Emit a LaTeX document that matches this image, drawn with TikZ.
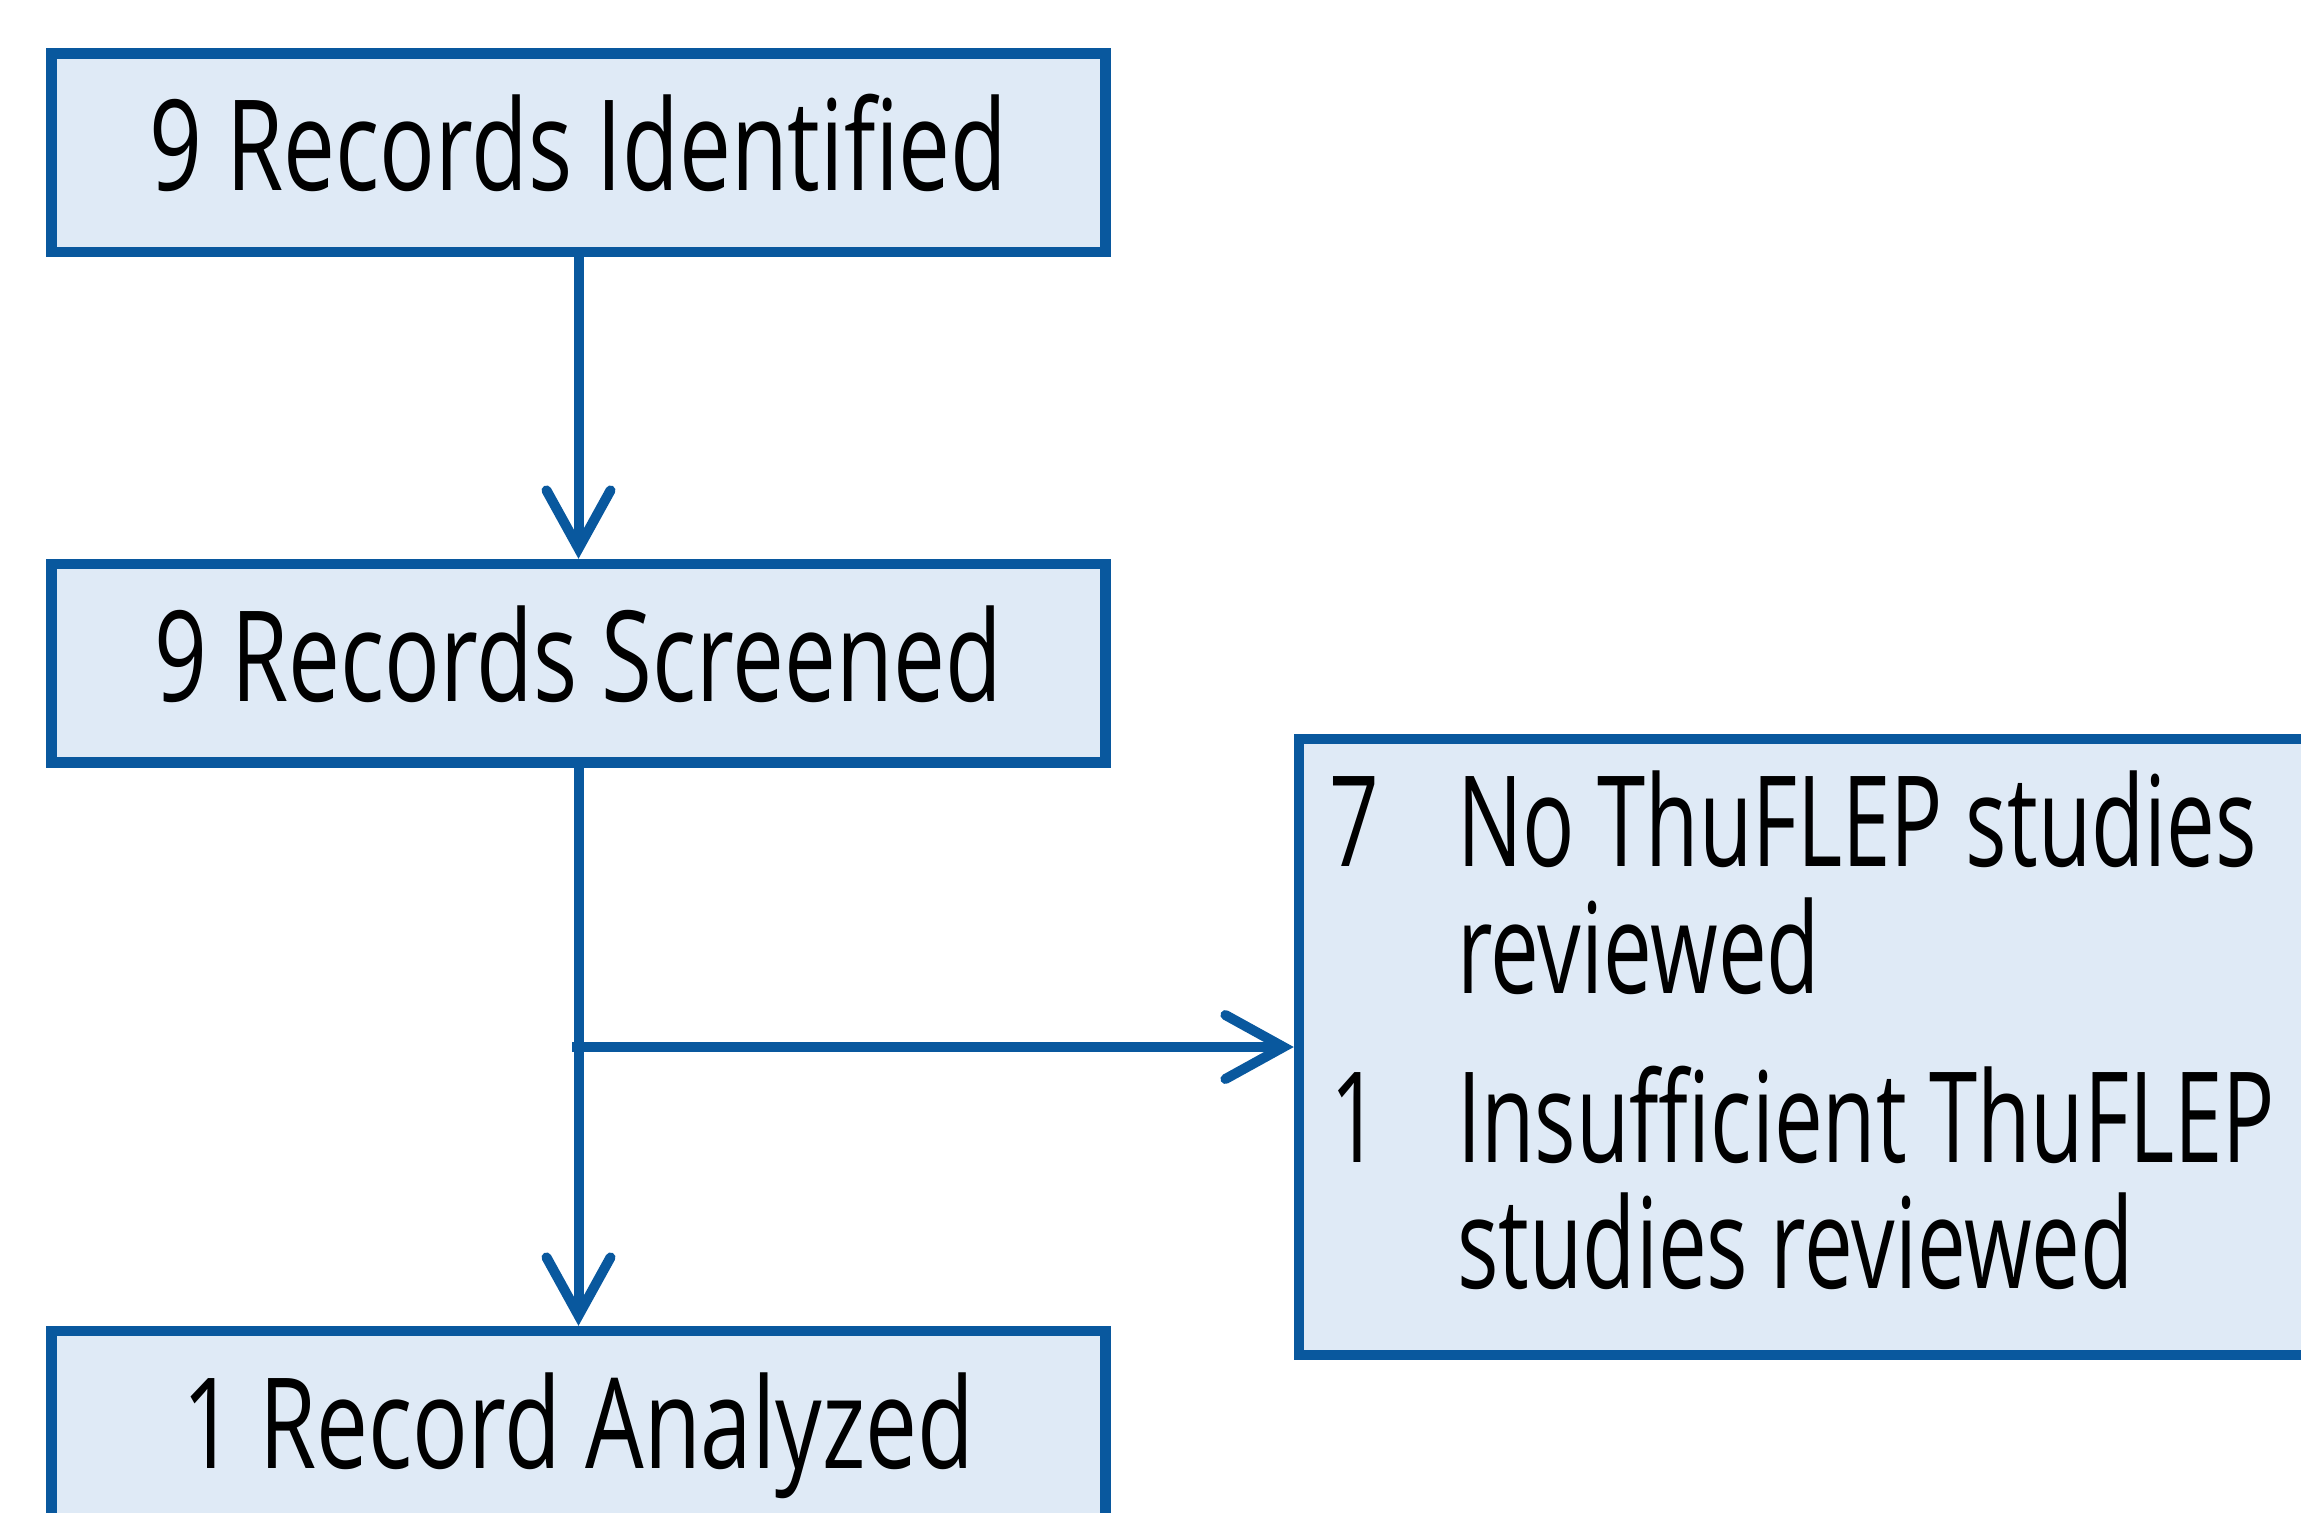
\documentclass[tikz,border=0pt]{standalone}
\usepackage{fontspec}
\setmainfont[FakeStretch=0.735]{Open Sans}
\newfontfamily\rbfont[FakeStretch=0.69]{Open Sans}
\usetikzlibrary{arrows.meta}
\definecolor{bordblue}{RGB}{9,88,158}
\definecolor{fillblue}{RGB}{223,234,246}
\begin{document}
\begin{tikzpicture}[x=1pt,y=-1pt,
  box/.style={draw=bordblue, fill=fillblue, line width=10.5pt, inner sep=0pt,
    minimum width=1054pt, minimum height=198.5pt, text height=76pt, text depth=0pt,
    font=\fontsize{126}{150}\selectfont},
  conn/.style={draw=bordblue, line width=10pt,
    -{Straight Barb[length=58pt,width=64pt,line cap=round]}},
  lbl/.style={inner sep=0pt, anchor=base west, font=\rbfont\fontsize{126}{150}\selectfont}]
\useasboundingbox (0,0) rectangle (2301,1512);
\clip (0,0) rectangle (2301,1512);
\node[box] (b1) at (578.5,152.75) {9 Records Identified};
\node[box] (b2) at (578.5,663.25) {9 Records Screened};
\node[box] (b3) at (578.5,1430.25) {1 Record Analyzed};
\node[draw=bordblue, fill=fillblue, line width=10.5pt, inner sep=0pt,
  minimum width=1021pt, minimum height=616pt] (rb) at (1809.5,1047) {};
\node[lbl] (n7) at (1329,866) {7};
\node[lbl] (t1) at (1457,866) {No ThuFLEP studies};
\node[lbl] (t2) at (1457,993) {reviewed};
\node[lbl] (n1) at (1330,1162) {1};
\node[lbl] (t3) at (1457,1162) {Insufficient ThuFLEP};
\node[lbl] (t4) at (1457,1288) {studies reviewed};
\coordinate (br) at (572,1047);
\draw[conn] (b1.south) -- (b2.north);
\draw[conn] (b2.south) -- (b3.north);
\draw[conn] (br) -- (rb.west);
\end{tikzpicture}
\end{document}
